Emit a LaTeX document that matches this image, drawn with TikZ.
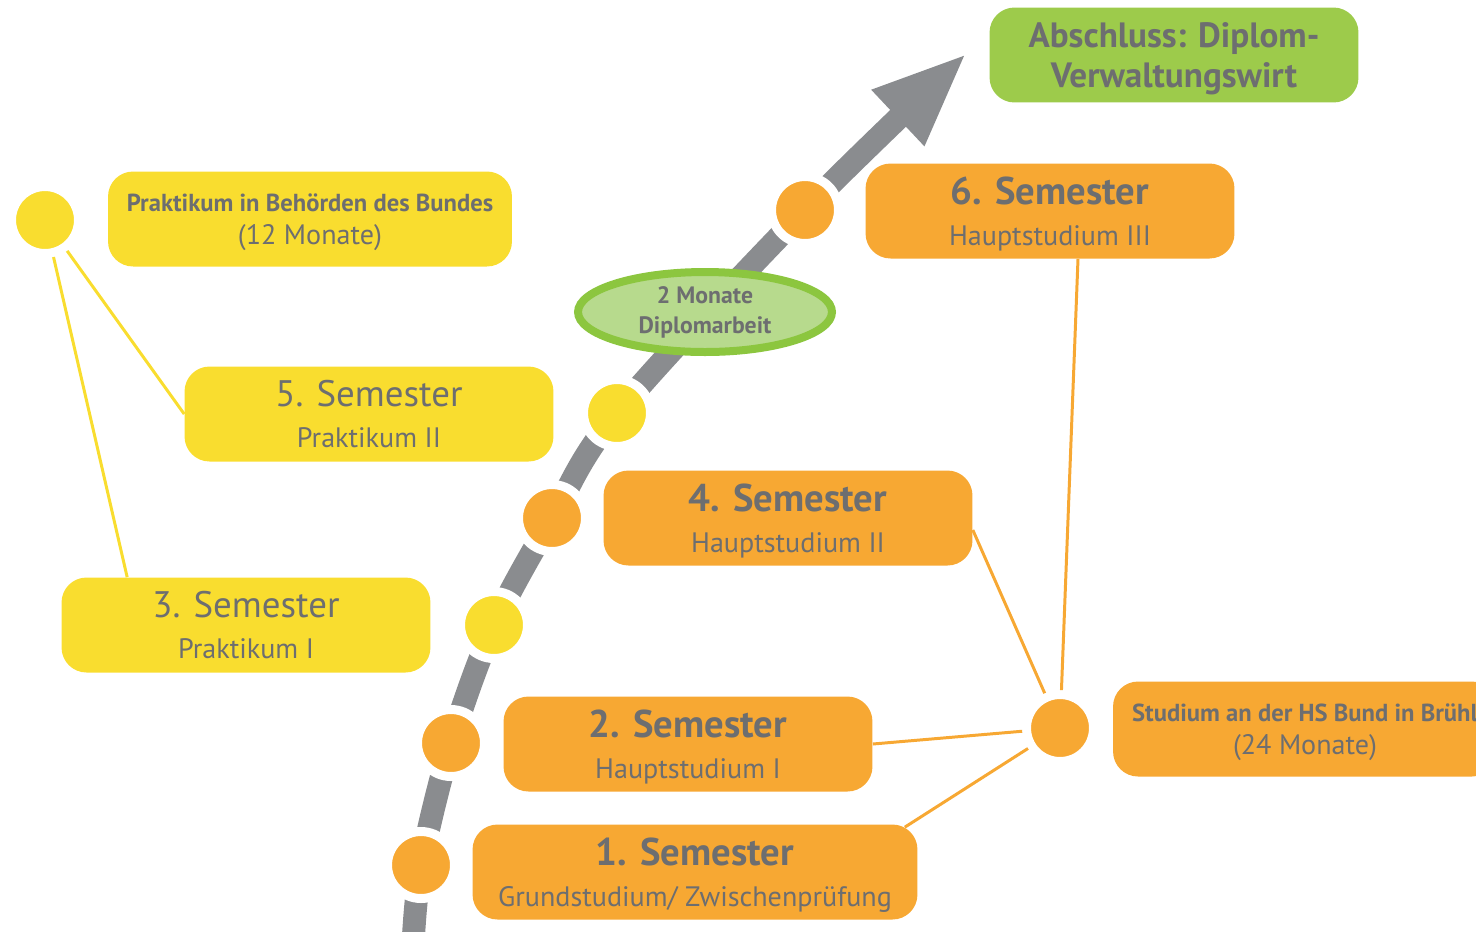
\documentclass[tikz,border=0pt]{standalone}
\usepackage{fontspec}
\setmainfont{PT Sans}
\usepackage{xcolor}
\usetikzlibrary{arrows.meta,shapes.geometric}
\definecolor{semorange}{HTML}{F7A833}
\definecolor{semyellow}{HTML}{F9DD2F}
\definecolor{semgreen}{HTML}{9DCB4B}
\definecolor{lightgreen}{HTML}{B7DA8D}
\definecolor{ringgreen}{HTML}{8CC63F}
\definecolor{arrowgray}{HTML}{8A8C8F}
\definecolor{textgray}{HTML}{6D6E70}
\tikzstyle{box} = [rounded corners=0.5cm, minimum width=7.38cm, minimum height=1.9cm, align=center, text=textgray, inner sep=0pt, text depth=-2pt]
\tikzstyle{orangebox} = [box, fill=semorange]
\tikzstyle{yellowbox} = [box, fill=semyellow]
\tikzstyle{dot} = [circle, minimum size=1.34cm, inner sep=0pt, draw=white, line width=0.18cm]
\tikzstyle{link} = [line width=1.7pt]
\newcommand{\semhead}[2]{{\fontsize{22}{22}\selectfont\bfseries #1}\\[11pt]{\fontsize{16}{16}\selectfont #2}}
\newcommand{\semheadlight}[2]{{\fontsize{21}{21}\selectfont #1}\\[11pt]{\fontsize{16}{16}\selectfont #2}}
\newcommand{\infohead}[2]{{\fontsize{14}{14}\selectfont\bfseries #1}\\[7pt]{\fontsize{16}{16}\selectfont #2}}

\begin{document}
\begin{tikzpicture}[x=0.02cm, y=-0.02cm]
	\useasboundingbox (0,0) rectangle (1476,931);
	\clip (0,0) rectangle (1476,931);

	% path of the study
	\coordinate (start) at (413,945);
	\coordinate (p1) at (421,865);
	\coordinate (p2) at (451,743);
	\coordinate (p3) at (494,625);
	\coordinate (p4) at (552,518);
	\coordinate (p5) at (617,413);
	\coordinate (p6) at (805,210);
	\coordinate (tip) at (967,53);
	\draw [line width=0.46cm, arrowgray, -{Triangle[width=1.4cm, length=1.9cm]}]
		plot [smooth, tension=0.55] coordinates {(start) (p1) (p2) (p3) (p4) (p5) (p6) (tip)};

	\node (d1) [dot, fill=semorange] at (p1) {};
	\node (d2) [dot, fill=semorange] at (p2) {};
	\node (d3) [dot, fill=semyellow] at (p3) {};
	\node (d4) [dot, fill=semorange] at (p4) {};
	\node (d5) [dot, fill=semyellow] at (p5) {};
	\node (d6) [dot, fill=semorange] at (p6) {};

	\node (thesis) [ellipse, draw=ringgreen, line width=0.16cm, fill=lightgreen, minimum width=5.08cm, minimum height=1.6cm, inner sep=0pt, align=center, text=textgray, font=\fontsize{13.5}{17}\selectfont\bfseries] at (705,312) {2 Monate\\Diplomarbeit};

	% semesters
	\node (1sem) [orangebox, minimum width=8.9cm] at (695,872) {\semhead{1. Semester}{Grundstudium/ Zwischenprüfung}};
	\node (2sem) [orangebox] at (688,744) {\semhead{2. Semester}{Hauptstudium I}};
	\node (3sem) [yellowbox] at (246,625) {\semheadlight{3. Semester}{Praktikum I}};
	\node (4sem) [orangebox] at (788,518) {\semhead{4. Semester}{Hauptstudium II}};
	\node (5sem) [yellowbox] at (369,414) {\semheadlight{5. Semester}{Praktikum II}};
	\node (6sem) [orangebox] at (1050,211) {\semhead{6. Semester}{Hauptstudium III}};

	\node (degree) [box, fill=semgreen, text depth=-4pt, font=\fontsize{20}{21}\selectfont\bfseries] at (1174,55) {Abschluss: Diplom-\\[2pt]Verwaltungswirt};

	% the two phases
	\node (prak) [yellowbox, minimum width=8.08cm, text depth=-8pt] at (310,219) {\infohead{Praktikum in Behörden des Bundes}{(12 Monate)}};
	\node (ystar) [dot, fill=semyellow] at (45,220) {};
	\node (studium) [orangebox, minimum width=7.68cm, text depth=-8pt] at (1305,729) {\infohead{Studium an der HS Bund in Brühl}{(24 Monate)}};
	\node (ostar) [dot, fill=semorange] at (1060,728) {};

	\draw [link, semyellow] (ystar) -- (5sem.west);
	\draw [link, semyellow] (ystar) -- ([xshift=1.32cm]3sem.north west);

	\draw [link, semorange] (ostar) -- ([xshift=-0.26cm, yshift=-0.06cm]1sem.north east);
	\draw [link, semorange] (ostar) -- (2sem.east);
	\draw [link, semorange] (ostar) -- ([yshift=-0.24cm]4sem.east);
	\draw [link, semorange] (ostar) -- ([xshift=0.56cm]6sem.south);
\end{tikzpicture}
\end{document}
